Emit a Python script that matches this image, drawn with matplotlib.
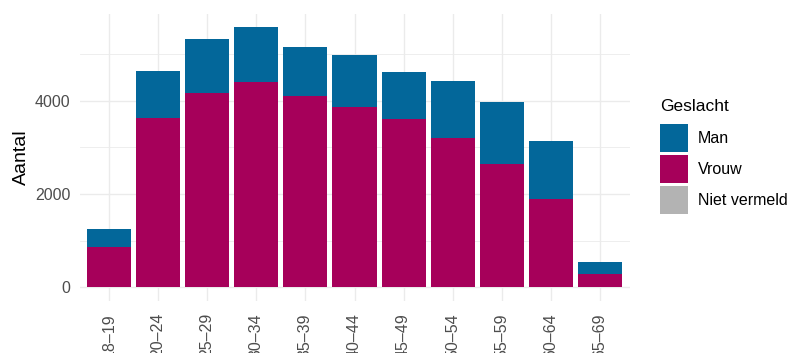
import matplotlib.pyplot as plt
import numpy as np
from matplotlib.patches import Patch

plt.rcParams['font.family'] = ['Liberation Sans', 'DejaVu Sans']

# age groups and counts per gender
leeftijd = ["18\u201319", "20\u201324", "25\u201329", "30\u201334", "35\u201339", "40\u201344",
            "45\u201349", "50\u201354", "55\u201359", "60\u201364", "65\u201369"]
vrouw = [870, 3630, 4160, 4400, 4100, 3870, 3600, 3200, 2640, 1890, 280]
man = [380, 1010, 1160, 1180, 1050, 1100, 1020, 1220, 1330, 1240, 270]
niet_vermeld = [0, 0, 0, 0, 0, 0, 0, 0, 0, 0, 0]

c_man = "#03679A"
c_vrouw = "#A6005A"
c_niet = "#B3B3B3"
grid = "#EBEBEB"
txt = "#4D4D4D"

W, H = 789, 353
fig = plt.figure(figsize=(W / 100, H / 100), dpi=100)
ax = fig.add_axes([79.5 / W, 1 - 300.5 / H, 550 / W, 286.5 / H])

x = np.arange(len(leeftijd))
nv = np.array(niet_vermeld)
vr = np.array(vrouw)
ax.bar(x, nv, 0.9, color=c_niet, linewidth=0, zorder=2)
ax.bar(x, vr, 0.9, bottom=nv, color=c_vrouw, linewidth=0, zorder=2)
ax.bar(x, man, 0.9, bottom=nv + vr, color=c_man, linewidth=0, zorder=2)

tot = nv + vr + np.array(man)
ymax = tot.max()
ax.set_ylim(-0.05 * ymax, 1.05 * ymax)
ax.set_xlim(-0.6, len(leeftijd) - 0.4)

ax.set_yticks([0, 2000, 4000])
ax.set_yticks([1000, 3000, 5000], minor=True)
ax.set_xticks(x)
ax.set_xticklabels(leeftijd, rotation=90, va='top', ha='center')
ax.tick_params(axis='both', length=0, labelsize=11.5, labelcolor=txt)
ax.tick_params(axis='x', pad=9)
ax.tick_params(axis='y', pad=6.5)
ax.tick_params(which='minor', length=0)

ax.grid(True, which='major', color=grid, linewidth=1.0, zorder=0)
ax.grid(True, which='minor', axis='y', color=grid, linewidth=0.6, zorder=0)
ax.set_axisbelow(True)
for s in ax.spines.values():
    s.set_visible(False)

ax.set_ylabel("Aantal", fontsize=14)
ax.yaxis.set_label_coords(-0.09, 0.5)

fig.text(660 / W, 1 - 99 / H, "Geslacht", fontsize=12.5, va='top', ha='left')
handles = [Patch(facecolor=c_man, edgecolor='none', label="Man"),
           Patch(facecolor=c_vrouw, edgecolor='none', label="Vrouw"),
           Patch(facecolor=c_niet, edgecolor='none', label="Niet vermeld")]
fig.legend(handles=handles, loc='upper left', bbox_to_anchor=(660 / W, 1 - 124 / H),
           frameon=False, fontsize=11.5, borderpad=0, borderaxespad=0,
           handlelength=1.75, handleheight=2.3, handletextpad=0.6, labelspacing=0.2)

fig.savefig("out.png", dpi=100)
